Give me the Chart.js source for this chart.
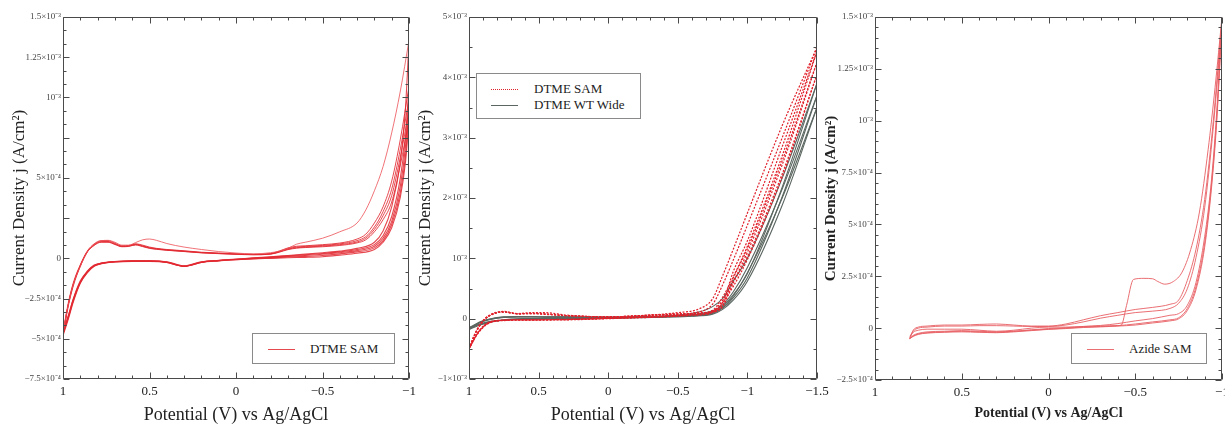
<!DOCTYPE html>
<html>
<head>
<meta charset="utf-8">
<script src="https://cdn.jsdelivr.net/npm/chart.js@4.4.1/dist/chart.umd.min.js"></script>
<style>
  body { margin: 0; background: #fff; }
  #wrap { position: relative; width: 1225px; height: 427px; overflow: hidden; font-family: "Liberation Serif", "Times New Roman", serif; }
  canvas { position: absolute; top: 0; }
  .legend { position: absolute; background: #fff; border: 1px solid #8a8a8a; box-sizing: border-box; }
  .legend .row { position: absolute; left: 0; right: 0; height: 16px; }
  .legend .swatch { position: absolute; width: 27px; top: 8px; height: 0; }
  .legend .label { position: absolute; top: 0; line-height: 16px; font-size: 13px; color: #222; white-space: nowrap; }
</style>
</head>
<body>
<div id="wrap">
  <canvas id="cv1" width="425" height="427" style="left:0;width:425px;height:427px"></canvas>
  <canvas id="cv2" width="435" height="427" style="left:415px;width:435px;height:427px"></canvas>
  <canvas id="cv3" width="405" height="427" style="left:820px;width:405px;height:427px"></canvas>

  <div class="legend" style="left:252px;top:333px;width:143px;height:31px">
    <div class="row" style="top:7px">
      <div class="swatch" style="left:15px;border-top:1px solid rgba(226,40,48,0.85)"></div>
      <span class="label" style="left:57px">DTME SAM</span>
    </div>
  </div>
  <div class="legend" style="left:476px;top:73px;width:165px;height:46px">
    <div class="row" style="top:7px">
      <div class="swatch" style="left:14px;border-top:1px dotted #e0202a"></div>
      <span class="label" style="left:57px">DTME SAM</span>
    </div>
    <div class="row" style="top:23px">
      <div class="swatch" style="left:14px;border-top:1px solid #5b6660"></div>
      <span class="label" style="left:57px">DTME WT Wide</span>
    </div>
  </div>
  <div class="legend" style="left:1071px;top:333px;width:136px;height:31px">
    <div class="row" style="top:7px">
      <div class="swatch" style="left:15px;border-top:1px solid rgba(232,95,100,0.9)"></div>
      <span class="label" style="left:57px">Azide SAM</span>
    </div>
  </div>
</div>

<script>
// Current densities are stored in units of 1e-4 A/cm^2, potentials in V vs Ag/AgCl.

// ---- DTME SAM, -1 V window ----
const P1_FWD_V = [1, 0.97, 0.94, 0.9, 0.86, 0.82, 0.78, 0.74, 0.7, 0.66, 0.62, 0.58, 0.54, 0.5, 0.46, 0.4, 0.3, 0.2, 0.1, 0, -0.1, -0.2, -0.25, -0.3, -0.35, -0.4, -0.5, -0.6, -0.7, -0.75, -0.8, -0.85, -0.9, -0.95, -1];
const P1_RET_V = [-1, -0.98, -0.95, -0.9, -0.85, -0.8, -0.7, -0.6, -0.5, -0.4, -0.3, -0.2, -0.1, 0, 0.1, 0.2, 0.26, 0.3, 0.34, 0.4, 0.5, 0.6, 0.7, 0.78, 0.82, 0.86, 0.9, 0.94, 0.97, 1];
const P1_FWD_1 = [-4.6, -2.9, -1.6, -0.5, 0.4, 0.85, 1.08, 1.12, 1.0, 0.82, 0.82, 0.98, 1.15, 1.2, 1.12, 0.92, 0.7, 0.55, 0.42, 0.33, 0.28, 0.35, 0.45, 0.62, 0.88, 1.0, 1.25, 1.65, 2.2, 3.0, 4.2, 5.7, 7.8, 10.4, 13.55];
const P1_FWD_2 = [-4.6, -2.8, -1.5, -0.4, 0.45, 0.9, 1.1, 1.1, 0.95, 0.78, 0.8, 0.9, 0.82, 0.7, 0.62, 0.55, 0.47, 0.38, 0.33, 0.28, 0.25, 0.3, 0.45, 0.65, 0.75, 0.78, 0.85, 0.95, 1.2, 1.5, 2.2, 3.2, 4.8, 7.4, 10.7];
const P1_FWD_3 = [-4.7, -2.9, -1.6, -0.45, 0.4, 0.85, 1.05, 1.05, 0.9, 0.75, 0.78, 0.88, 0.78, 0.66, 0.6, 0.53, 0.45, 0.36, 0.31, 0.27, 0.24, 0.28, 0.42, 0.6, 0.7, 0.74, 0.8, 0.9, 1.1, 1.35, 1.95, 2.9, 4.3, 6.8, 9.9];
const P1_FWD_4 = [-4.7, -2.9, -1.6, -0.45, 0.4, 0.82, 1.02, 1.02, 0.88, 0.74, 0.76, 0.85, 0.75, 0.64, 0.58, 0.51, 0.43, 0.35, 0.3, 0.26, 0.23, 0.27, 0.4, 0.57, 0.66, 0.7, 0.76, 0.85, 1.02, 1.25, 1.8, 2.65, 3.9, 6.3, 9.2];
const P1_FWD_5 = [-4.8, -3.0, -1.7, -0.5, 0.38, 0.8, 1.0, 1.0, 0.86, 0.72, 0.74, 0.83, 0.73, 0.62, 0.56, 0.5, 0.42, 0.34, 0.29, 0.25, 0.22, 0.26, 0.38, 0.54, 0.63, 0.67, 0.72, 0.8, 0.96, 1.15, 1.65, 2.4, 3.5, 5.8, 8.6];
const P1_RET_1 = [13.55, 9.4, 6.0, 3.2, 1.7, 1.0, 0.62, 0.45, 0.35, 0.26, 0.18, 0.1, 0.03, -0.05, -0.12, -0.22, -0.38, -0.47, -0.38, -0.22, -0.15, -0.15, -0.2, -0.3, -0.42, -0.8, -1.4, -2.5, -3.6, -4.6];
const P1_RET_2 = [10.7, 7.6, 5.0, 2.6, 1.4, 0.85, 0.55, 0.4, 0.3, 0.22, 0.15, 0.08, 0.02, -0.06, -0.13, -0.23, -0.4, -0.48, -0.4, -0.23, -0.16, -0.16, -0.2, -0.3, -0.45, -0.82, -1.45, -2.5, -3.6, -4.6];
const P1_RET_3 = [9.9, 7.0, 4.5, 2.3, 1.25, 0.75, 0.48, 0.35, 0.25, 0.18, 0.12, 0.06, 0.0, -0.07, -0.14, -0.24, -0.42, -0.5, -0.42, -0.24, -0.17, -0.17, -0.21, -0.32, -0.47, -0.85, -1.5, -2.6, -3.7, -4.7];
const P1_RET_4 = [9.2, 6.4, 4.1, 2.1, 1.1, 0.65, 0.4, 0.28, 0.18, 0.12, 0.08, 0.03, -0.02, -0.08, -0.15, -0.25, -0.42, -0.5, -0.42, -0.25, -0.18, -0.18, -0.22, -0.33, -0.48, -0.88, -1.5, -2.6, -3.7, -4.7];
const P1_RET_5 = [8.6, 6.0, 3.8, 1.9, 1.0, 0.55, 0.32, 0.2, 0.1, 0.06, 0.04, 0.0, -0.04, -0.09, -0.16, -0.26, -0.43, -0.5, -0.43, -0.26, -0.19, -0.19, -0.23, -0.34, -0.5, -0.9, -1.55, -2.7, -3.8, -4.8];
// potential axis runs from +1 on the left to the most negative value on the right
const P1_XLABELS = ['1', '0.5', '0', '\u22120.5', '\u22121'];
const P1_YLABELS = ['\u22127.5\u00d710\u207b\u2074', '\u22125\u00d710\u207b\u2074', '\u22122.5\u00d710\u207b\u2074', '0', '', '5\u00d710\u207b\u2074', '', '10\u207b\u00b3', '1.25\u00d710\u207b\u00b3', '1.5\u00d710\u207b\u00b3'];

// ---- DTME SAM vs DTME WT Wide, -1.5 V window ----
const P2_FWD_V = [1, 0.96, 0.92, 0.86, 0.75, 0.65, 0.55, 0.45, 0.3, 0, -0.3, -0.5, -0.65, -0.75, -0.82, -0.9, -1, -1.25, -1.5];
const P2_RET_V = [-1.5, -1.25, -1, -0.9, -0.82, -0.75, -0.6, -0.4, 0, 0.3, 0.6, 0.8, 0.88, 0.94, 1];
const SAM_FWD_1 = [-5, -2.6, -0.9, 0.5, 1.2, 0.85, 1.0, 1.0, 0.6, 0.3, 0.6, 1.0, 1.6, 3.3, 7.0, 11.6, 17.5, 32, 45];
const SAM_FWD_2 = [-5, -2.7, -1.0, 0.4, 1.15, 0.8, 0.9, 0.8, 0.5, 0.3, 0.6, 0.8, 0.95, 1.3, 2.6, 7.9, 12.9, 28.5, 44.3];
const SAM_FWD_3 = [-5, -2.7, -1.0, 0.4, 1.1, 0.8, 0.85, 0.75, 0.5, 0.3, 0.55, 0.75, 0.9, 1.2, 2.2, 6.8, 11.6, 26.2, 42.5];
const SAM_FWD_4 = [-5, -2.8, -1.1, 0.35, 1.1, 0.8, 0.85, 0.7, 0.5, 0.3, 0.55, 0.75, 0.85, 1.1, 1.9, 6.0, 10.3, 24.0, 40.5];
const SAM_RET_1 = [45, 30, 15.5, 9.8, 5.5, 2.4, 0.9, 0.5, 0.1, -0.1, -0.2, -0.3, -0.9, -2.4, -5];
const SAM_RET_2 = [44.3, 27, 12, 7, 3.5, 1.4, 0.7, 0.4, 0.05, -0.15, -0.2, -0.35, -1.0, -2.5, -5];
const SAM_RET_3 = [42.5, 25.5, 11, 6.2, 3.0, 1.2, 0.6, 0.35, 0.05, -0.15, -0.2, -0.35, -1.0, -2.5, -5];
const SAM_RET_4 = [40.5, 23.5, 9.8, 5.4, 2.6, 1.0, 0.55, 0.3, 0.0, -0.2, -0.25, -0.4, -1.1, -2.6, -5];
const WT_FWD_1 = [-1.5, -1.0, -0.5, -0.1, 0.3, 0.35, 0.35, 0.3, 0.3, 0.25, 0.35, 0.6, 1.1, 2.0, 3.3, 6.3, 10.0, 23.3, 39];
const WT_FWD_2 = [-1.7, -1.1, -0.6, -0.15, 0.25, 0.3, 0.3, 0.25, 0.25, 0.2, 0.3, 0.5, 0.8, 1.3, 2.2, 4.5, 8.5, 21.5, 37];
const WT_FWD_3 = [-1.8, -1.2, -0.65, -0.2, 0.2, 0.3, 0.3, 0.25, 0.25, 0.2, 0.3, 0.45, 0.7, 1.1, 1.8, 3.8, 7.6, 20.0, 35];
const WT_RET_1 = [39, 21.8, 7.5, 4.0, 2.0, 1.0, 0.55, 0.35, 0.15, 0.05, 0.0, -0.3, -0.6, -1.0, -1.5];
const WT_RET_2 = [37, 20.2, 6.8, 3.5, 1.7, 0.85, 0.45, 0.3, 0.1, 0.0, -0.05, -0.35, -0.7, -1.1, -1.7];
const WT_RET_3 = [35, 18.8, 6.2, 3.1, 1.5, 0.75, 0.4, 0.25, 0.05, 0.0, -0.05, -0.4, -0.8, -1.2, -1.8];
const P2_XLABELS = ['1', '0.5', '0', '\u22120.5', '\u22121', '\u22121.5'];
const P2_YLABELS = ['\u22121\u00d710\u207b\u00b3', '0', '10\u207b\u00b3', '2\u00d710\u207b\u00b3', '3\u00d710\u207b\u00b3', '4\u00d710\u207b\u00b3', '5\u00d710\u207b\u00b3'];

// ---- Azide SAM ----
const P3_FWD_V = [0.8, 0.78, 0.75, 0.7, 0.6, 0.5, 0.4, 0.3, 0.2, 0.1, 0, -0.1, -0.2, -0.3, -0.4, -0.5, -0.6, -0.7, -0.75, -0.8, -0.85, -0.9, -0.95, -1];
const P3_FIRST_V = [0.8, 0.78, 0.75, 0.7, 0.6, 0.5, 0.4, 0.3, 0.2, 0.1, 0, -0.1, -0.2, -0.3, -0.4, -0.42, -0.45, -0.49, -0.55, -0.6, -0.63, -0.67, -0.72, -0.77, -0.82, -0.87, -0.92, -0.96, -1];
const P3_RET_V = [-1, -0.97, -0.94, -0.9, -0.85, -0.8, -0.75, -0.7, -0.6, -0.5, -0.4, -0.3, -0.2, -0.1, 0, 0.1, 0.2, 0.3, 0.4, 0.5, 0.6, 0.7, 0.75, 0.78, 0.8];
const AZ_FWD_1 = [-0.4, -0.2, -0.1, -0.05, -0.05, -0.05, -0.1, -0.15, -0.1, 0.0, 0.05, 0.05, 0.08, 0.1, 0.12, 0.15, 1.1, 2.35, 2.4, 2.38, 2.25, 2.12, 2.25, 2.7, 3.8, 5.6, 8.6, 11.6, 15.0];
const AZ_FWD_2 = [-0.5, -0.1, 0.05, 0.1, 0.15, 0.15, 0.18, 0.2, 0.15, 0.1, 0.1, 0.2, 0.4, 0.6, 0.75, 0.9, 1.0, 1.15, 1.35, 2.3, 3.8, 6.2, 10.0, 14.9];
const AZ_FWD_3 = [-0.5, -0.15, 0.0, 0.05, 0.1, 0.1, 0.12, 0.12, 0.1, 0.08, 0.08, 0.15, 0.3, 0.48, 0.62, 0.75, 0.82, 0.95, 1.2, 1.9, 3.4, 5.8, 9.7, 14.7];
const AZ_RET_1 = [15.0, 10.5, 7.2, 4.4, 2.2, 1.1, 0.7, 0.62, 0.46, 0.35, 0.22, 0.13, 0.08, 0.02, -0.02, -0.08, -0.15, -0.18, -0.15, -0.12, -0.15, -0.18, -0.25, -0.35, -0.5];
const AZ_RET_2 = [14.9, 10.2, 7.0, 4.1, 2.0, 0.95, 0.5, 0.4, 0.3, 0.2, 0.12, 0.08, 0.05, 0.0, -0.05, -0.1, -0.15, -0.2, -0.18, -0.15, -0.18, -0.22, -0.28, -0.38, -0.5];
const AZ_RET_3 = [14.7, 10.0, 6.8, 3.9, 1.85, 0.85, 0.45, 0.35, 0.25, 0.15, 0.1, 0.06, 0.03, -0.02, -0.06, -0.12, -0.18, -0.22, -0.2, -0.18, -0.2, -0.24, -0.3, -0.4, -0.5];
const P3_XLABELS = ['1', '0.5', '0', '\u22120.5', '\u22121'];
const P3_YLABELS = ['\u22122.5\u00d710\u207b\u2074', '0', '2.5\u00d710\u207b\u2074', '5\u00d710\u207b\u2074', '7.5\u00d710\u207b\u2074', '10\u207b\u00b3', '1.25\u00d710\u207b\u00b3', '1.5\u00d710\u207b\u00b3'];

const SERIF = '"Liberation Serif", "Times New Roman", serif';
const RED_1 = 'rgba(236,80,86,0.8)';
const RED = 'rgba(226,40,48,0.85)';
const SAM_RED = '#e0202a';
const WT_GREY = '#5b6660';
const AZ_RED = 'rgba(232,95,100,0.9)';

// one sweep of a voltammogram as a smooth line
function sweep(vs, js, color, width, dash) {
  return {
    data: vs.map((v, i) => ({ x: v, y: js[i] })),
    showLine: true, pointRadius: 0, borderColor: color, borderWidth: width,
    borderDash: dash || [], cubicInterpolationMode: 'monotone', fill: false,
  };
}

// box round the plot area with inward major/minor ticks on all four sides
const frameTicks = {
  id: 'frameTicks',
  afterDatasetsDraw(chart, args, o) {
    const { ctx, chartArea: a, scales: { x, y } } = chart;
    const L = Math.round(a.left) + 0.5, R = Math.round(a.right) - 0.5;
    const T = Math.round(a.top) + 0.5, B = Math.round(a.bottom) - 0.5;
    ctx.save();
    ctx.strokeStyle = '#4a4a4a';
    ctx.lineWidth = 1;
    ctx.beginPath();
    ctx.rect(L, T, R - L, B - T);
    const nx = Math.round((x.max - x.min) / o.xStep);
    for (let i = 0; i <= nx; i++) {
      const px = Math.round(x.getPixelForValue(x.min + i * o.xStep)) + 0.5;
      const len = i % o.xEvery === 0 ? 6 : 3;
      ctx.moveTo(px, B); ctx.lineTo(px, B - len);
      ctx.moveTo(px, T); ctx.lineTo(px, T + len);
    }
    const ny = Math.round((y.max - y.min) / o.yStep);
    for (let i = 0; i <= ny; i++) {
      const py = Math.round(y.getPixelForValue(y.min + i * o.yStep)) + 0.5;
      const len = i % o.yEvery === 0 ? 6 : 3;
      ctx.moveTo(L, py); ctx.lineTo(L + len, py);
      ctx.moveTo(R, py); ctx.lineTo(R - len, py);
    }
    ctx.stroke();
    ctx.restore();
  }
};

function makeChart(id, cfg) {
  return new Chart(document.getElementById(id), {
    type: 'scatter',
    data: { datasets: cfg.datasets },
    plugins: [frameTicks],
    options: {
      responsive: false, animation: false, events: [],
      layout: { padding: { top: 17, right: cfg.padRight, bottom: 0, left: 0 } },
      plugins: { legend: { display: false }, tooltip: { enabled: false }, frameTicks: cfg.ticks },
      scales: {
        x: {
          type: 'linear', reverse: true, min: cfg.xMin, max: cfg.xMax,
          grid: { display: false, drawTicks: false }, border: { display: false },
          ticks: { stepSize: 0.5, autoSkip: false, maxRotation: 0, padding: 5, color: '#222',
                   font: { family: SERIF, size: 13 }, callback: (v, i) => cfg.xLabels[i] },
          title: { display: true, text: 'Potential (V) vs Ag/AgCl', color: '#222',
                   font: { family: SERIF, size: cfg.titleSize, weight: cfg.titleWeight, lineHeight: 1 },
                   padding: { top: 0, bottom: cfg.xTitlePad } },
          afterFit: s => { s.height = cfg.xHeight; s.paddingLeft = 0; s.paddingRight = 0; },
        },
        y: {
          type: 'linear', min: cfg.yMin, max: cfg.yMax,
          grid: { display: false, drawTicks: false }, border: { display: false },
          ticks: { stepSize: cfg.yStep, autoSkip: false, padding: 2, color: '#444',
                   font: { family: SERIF, size: 9 }, callback: (v, i) => cfg.yLabels[i] },
          title: { display: true, text: 'Current Density j (A/cm\u00b2)', color: '#222',
                   font: { family: SERIF, size: cfg.yTitleSize, weight: cfg.titleWeight, lineHeight: 1 },
                   padding: { top: cfg.yTitlePad, bottom: 0 } },
          afterFit: s => { s.width = cfg.yWidth; s.paddingTop = 0; s.paddingBottom = 0; },
        },
      },
    },
  });
}

makeChart('cv1', {
  datasets: [
    sweep(P1_FWD_V, P1_FWD_1, RED_1, 1), sweep(P1_RET_V, P1_RET_1, RED, 1.1),
    sweep(P1_FWD_V, P1_FWD_2, RED, 1), sweep(P1_RET_V, P1_RET_2, RED, 1.1),
    sweep(P1_FWD_V, P1_FWD_3, RED, 1), sweep(P1_RET_V, P1_RET_3, RED, 1.1),
    sweep(P1_FWD_V, P1_FWD_4, RED, 1), sweep(P1_RET_V, P1_RET_4, RED, 1.1),
    sweep(P1_FWD_V, P1_FWD_5, RED, 1), sweep(P1_RET_V, P1_RET_5, RED, 1.1),
  ],
  xMin: -1, xMax: 1, yMin: -7.5, yMax: 15, yStep: 2.5,
  xLabels: P1_XLABELS, yLabels: P1_YLABELS,
  ticks: { xStep: 0.1, xEvery: 5, yStep: 2.5 / 3, yEvery: 3 },
  padRight: 16, yWidth: 63, xHeight: 48,
  titleSize: 18, yTitleSize: 17, titleWeight: 'normal', xTitlePad: 3, yTitlePad: 11,
});

makeChart('cv2', {
  datasets: [
    sweep(P2_FWD_V, SAM_FWD_1, SAM_RED, 1.2, [2, 1.5]), sweep(P2_RET_V, SAM_RET_1, SAM_RED, 1.2, [2, 1.5]),
    sweep(P2_FWD_V, SAM_FWD_2, SAM_RED, 1.2, [2, 1.5]), sweep(P2_RET_V, SAM_RET_2, SAM_RED, 1.2, [2, 1.5]),
    sweep(P2_FWD_V, SAM_FWD_3, SAM_RED, 1.2, [2, 1.5]), sweep(P2_RET_V, SAM_RET_3, SAM_RED, 1.2, [2, 1.5]),
    sweep(P2_FWD_V, SAM_FWD_4, SAM_RED, 1.2, [2, 1.5]), sweep(P2_RET_V, SAM_RET_4, SAM_RED, 1.2, [2, 1.5]),
    sweep(P2_FWD_V, WT_FWD_1, WT_GREY, 1.1), sweep(P2_RET_V, WT_RET_1, WT_GREY, 1.1),
    sweep(P2_FWD_V, WT_FWD_2, WT_GREY, 1.1), sweep(P2_RET_V, WT_RET_2, WT_GREY, 1.1),
    sweep(P2_FWD_V, WT_FWD_3, WT_GREY, 1.1), sweep(P2_RET_V, WT_RET_3, WT_GREY, 1.1),
  ],
  xMin: -1.5, xMax: 1, yMin: -10, yMax: 50, yStep: 10,
  xLabels: P2_XLABELS, yLabels: P2_YLABELS,
  ticks: { xStep: 0.1, xEvery: 5, yStep: 5, yEvery: 2 },
  padRight: 33, yWidth: 54, xHeight: 48,
  titleSize: 18, yTitleSize: 17, titleWeight: 'normal', xTitlePad: 3, yTitlePad: 2,
});

makeChart('cv3', {
  datasets: [
    sweep(P3_FIRST_V, AZ_FWD_1, AZ_RED, 1), sweep(P3_RET_V, AZ_RET_1, AZ_RED, 1),
    sweep(P3_FWD_V, AZ_FWD_2, AZ_RED, 1), sweep(P3_RET_V, AZ_RET_2, AZ_RED, 1),
    sweep(P3_FWD_V, AZ_FWD_3, AZ_RED, 1), sweep(P3_RET_V, AZ_RET_3, AZ_RED, 1),
  ],
  xMin: -1, xMax: 1, yMin: -2.5, yMax: 15, yStep: 2.5,
  xLabels: P3_XLABELS, yLabels: P3_YLABELS,
  ticks: { xStep: 0.1, xEvery: 5, yStep: 0.5, yEvery: 5 },
  padRight: 3, yWidth: 55, xHeight: 47,
  titleSize: 14, yTitleSize: 15, titleWeight: 'bold', xTitlePad: 7, yTitlePad: 4,
});
</script>
</body>
</html>
